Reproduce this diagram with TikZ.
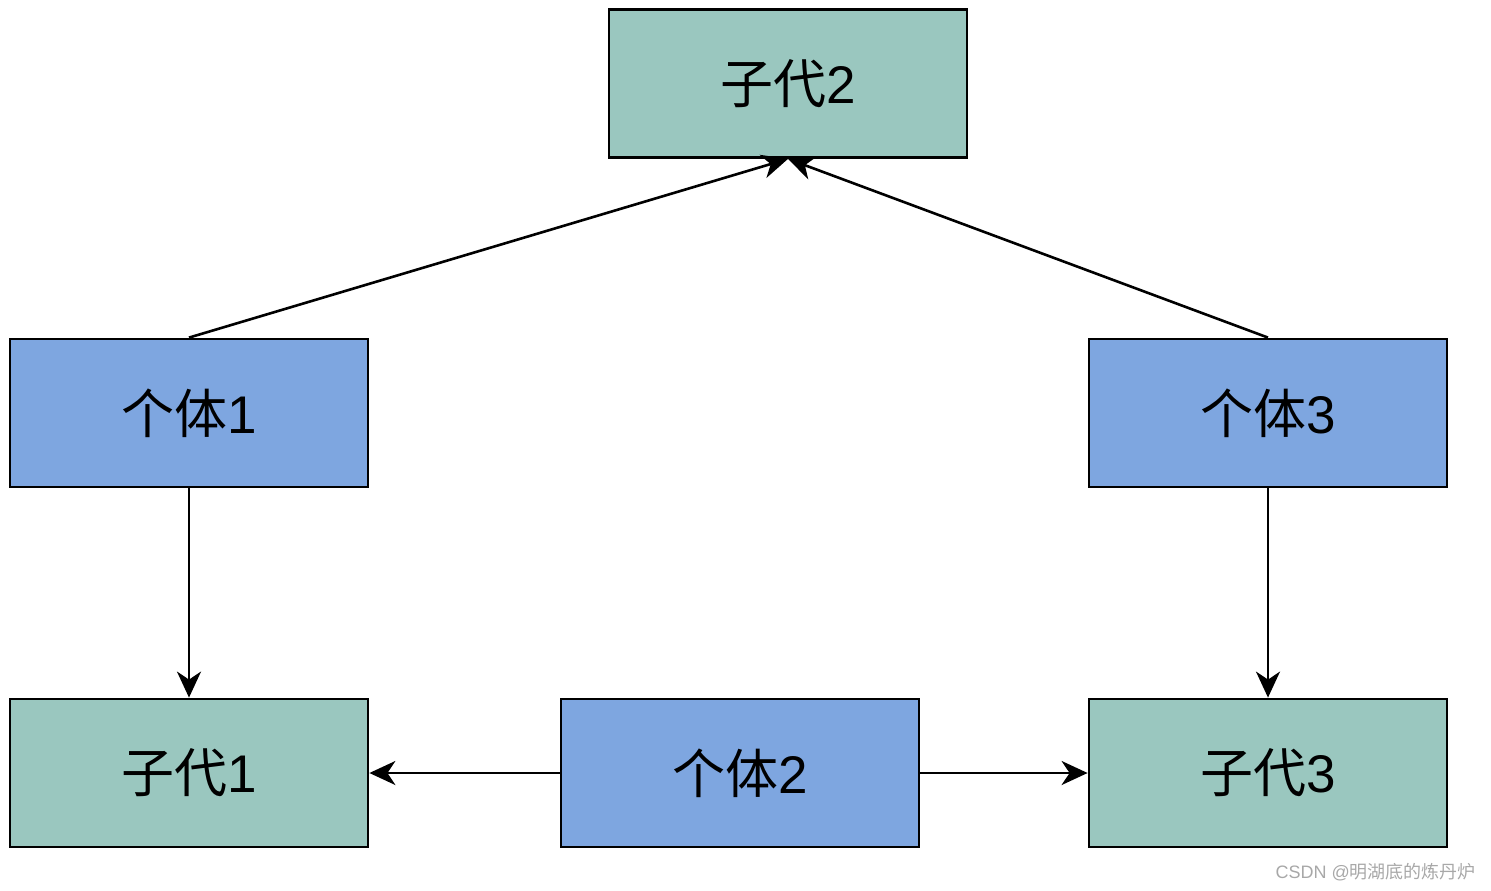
\documentclass[tikz,border=0pt]{standalone}
\usepackage{fontspec}
\setmainfont{Liberation Sans}
\newfontfamily\cjk{Noto Sans CJK SC}
\usetikzlibrary{arrows.meta}
\definecolor{kidgreen}{HTML}{9AC7BF}
\definecolor{indblue}{HTML}{7EA6E0}
\definecolor{wmgray}{HTML}{A8A8A8}
\begin{document}
\begin{tikzpicture}[x=1pt,y=-1pt,
  box/.style={draw=black,line width=2.8pt,minimum width=358pt,minimum height=148pt,inner sep=0pt,font=\fontsize{53}{60}\selectfont},
  kid/.style={box,fill=kidgreen},
  ind/.style={box,fill=indblue},
  conn/.style={line width=2.6pt,-{Stealth[length=26pt,width=24pt,inset=8pt]}}]
\useasboundingbox (0,0) rectangle (1491,891);
\node[kid] (k2) at (788,83.5) {{\cjk 子代}2};
\node[ind] (i1) at (189,413) {{\cjk 个体}1};
\node[ind] (i3) at (1268,413) {{\cjk 个体}3};
\node[kid] (k1) at (189,773) {{\cjk 子代}1};
\node[ind] (i2) at (740,773) {{\cjk 个体}2};
\node[kid] (k3) at (1268,773) {{\cjk 子代}3};
\draw[conn] (i1.north) -- (k2.south);
\draw[conn] (i3.north) -- (k2.south);
\draw[conn] (i1.south) -- (k1.north);
\draw[conn] (i3.south) -- (k3.north);
\draw[conn] (i2.west) -- (k1.east);
\draw[conn] (i2.east) -- (k3.west);
\node[anchor=east,text=wmgray,font=\fontsize{18}{20}\selectfont,inner sep=0pt] (wm) at (1476,872) {CSDN @{\cjk 明湖底的炼丹炉}};
\end{tikzpicture}
\end{document}
